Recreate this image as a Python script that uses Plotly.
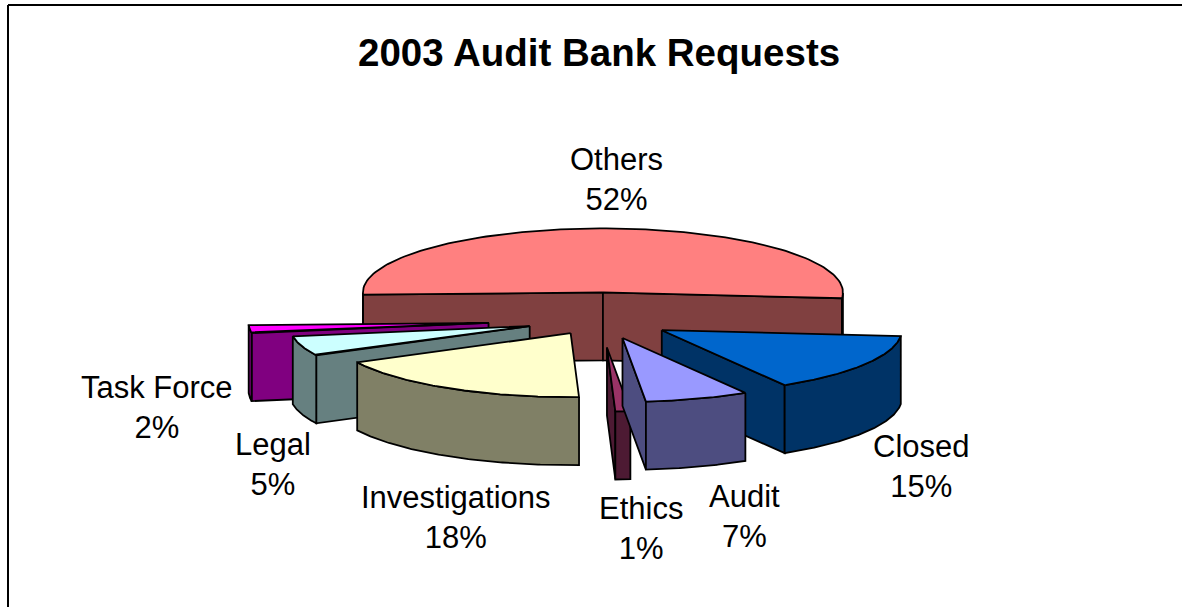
import numpy as np
import plotly.graph_objects as go

# Audit bank requests for 2003, share of total in percent
categories = ["Others", "Closed", "Audit", "Ethics", "Investigations", "Legal", "Task Force"]
shares = [52, 15, 7, 1, 18, 5, 2]

# Pull-out distance of every slice from the pie centre
explode = [105, 73, 72, 105, 58, 74, 112]

top_colors = ["#FF8080", "#0066CC", "#9999FF", "#993366", "#FFFFCC", "#CCFFFF", "#FF00FF"]
side_colors = ["#804040", "#003366", "#4D4D80", "#4D1A33", "#808066", "#668080", "#800080"]

# Slices are painted back to front
paint_order = ["Others", "Task Force", "Legal", "Closed", "Ethics", "Audit", "Investigations"]

# Label anchors in page pixels (centre of the two-line block)
label_pos = {
    "Others": (616, 179), "Closed": (921, 466), "Audit": (744, 516), "Ethics": (641, 528),
    "Investigations": (456, 517), "Legal": (273, 464), "Task Force": (157, 407),
}

WIDTH, HEIGHT = 1182, 607
CX, CY = 600, 320      # pie centre
RX, RY = 240, 64       # ellipse radii of the tilted disc
DEPTH = 68             # extrusion height
TILT = 63 / RX
FIRST_ANGLE = -92.0    # clockwise from twelve o'clock


def rim(apex, angles):
    """Rim points of the tilted disc around a slice apex; angles in degrees."""
    a = np.radians(angles)
    return apex[0] + RX * np.sin(a), apex[1] - RY * np.cos(a)


def polygon(xs, ys, fill):
    return go.Scatter(
        x=list(xs) + [xs[0]], y=list(ys) + [ys[0]], mode="lines", fill="toself",
        fillcolor=fill, line=dict(color="black", width=1.8),
        hoverinfo="skip", showlegend=False,
    )


def slice_traces(a0, a1, push, top, side):
    mid = np.radians((a0 + a1) / 2)
    apex = (CX + push * np.sin(mid), CY - push * np.cos(mid) * TILT)
    arc = np.linspace(a0, a1, 120)
    rx, ry = rim(apex, arc)
    traces = []

    # Radial cut walls, kept only when they turn towards the viewer
    if np.sin(np.radians(a0)) < 0:
        traces.append(polygon([apex[0], rx[0], rx[0], apex[0]],
                              [apex[1], ry[0], ry[0] + DEPTH, apex[1] + DEPTH], side))
    if np.sin(np.radians(a1)) > 0:
        traces.append(polygon([apex[0], rx[-1], rx[-1], apex[0]],
                              [apex[1], ry[-1], ry[-1] + DEPTH, apex[1] + DEPTH], side))

    # Outer curved wall: each unbroken run of rim that faces the viewer
    facing = np.flatnonzero(np.cos(np.radians(arc)) <= 0)
    for run in np.split(facing, np.flatnonzero(np.diff(facing) > 1) + 1):
        if len(run) > 1:
            fx, fy = rim(apex, arc[run])
            traces.append(polygon(np.r_[fx, fx[::-1]], np.r_[fy, fy[::-1] + DEPTH], side))

    # Top face
    traces.append(polygon(np.r_[apex[0], rx], np.r_[apex[1], ry], top))
    return traces


spans = {}
angle = FIRST_ANGLE
total = sum(shares)
for name, share in zip(categories, shares):
    sweep = 360 * share / total
    spans[name] = (angle, angle + sweep)
    angle += sweep

fig = go.Figure()
for name in paint_order:
    i = categories.index(name)
    a0, a1 = spans[name]
    fig.add_traces(slice_traces(a0, a1, explode[i], top_colors[i], side_colors[i]))

for name, share in zip(categories, shares):
    x, y = label_pos[name]
    fig.add_annotation(x=x, y=y, text=f"{name}<br>{share}%", showarrow=False,
                       font=dict(family="Liberation Sans", size=31, color="black"),
                       align="center", xanchor="center", yanchor="middle")

fig.add_annotation(x=599, y=52, text="<b>2003 Audit Bank Requests</b>", showarrow=False,
                   font=dict(family="Liberation Sans", size=38.5, color="black"),
                   xanchor="center", yanchor="middle")

# Chart frame: only the top and left edges fall inside the page
fig.add_shape(type="line", x0=8, x1=8, y0=5, y1=607, line=dict(color="black", width=2))
fig.add_shape(type="line", x0=8, x1=1182, y0=5, y1=5, line=dict(color="black", width=2))

fig.update_layout(
    width=WIDTH, height=HEIGHT, autosize=False,
    margin=dict(l=0, r=0, t=0, b=0), paper_bgcolor="white", plot_bgcolor="white",
    showlegend=False,
    xaxis=dict(range=[0, WIDTH], visible=False, fixedrange=True),
    yaxis=dict(range=[HEIGHT, 0], visible=False, fixedrange=True),
)
fig.write_html("out.html", config={"displayModeBar": False})
